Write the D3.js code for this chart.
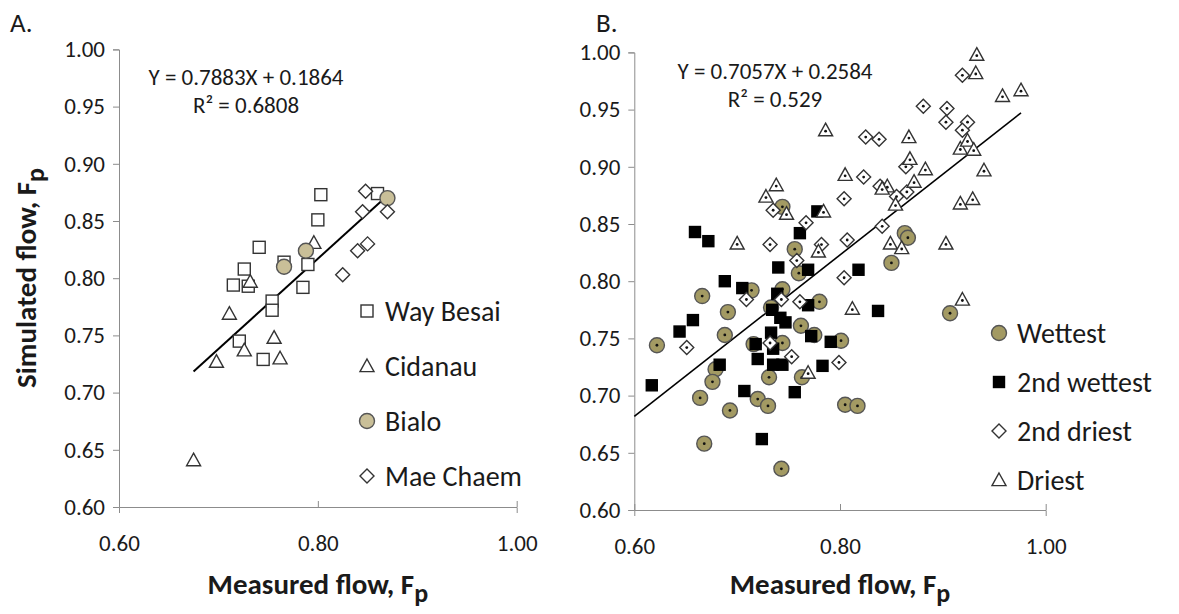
<!DOCTYPE html>
<html>
<head>
<meta charset="utf-8">
<script src="https://cdn.jsdelivr.net/npm/d3@7"></script>
<style>
body { margin: 0; background: #fff; }
text { font-family: Calibri, Carlito, Lato, "Open Sans", sans-serif; fill: #1a1a1a; }
</style>
</head>
<body>
<svg id="chart" width="1179" height="614"></svg>
<script>
// ---- panel A data ----
let wayBesai = [[0.803,0.873],[0.860,0.874],[0.800,0.851],[0.741,0.827],[0.766,0.814],[0.790,0.812],[0.726,0.808],[0.715,0.794],[0.730,0.793],[0.785,0.792],[0.754,0.780],[0.754,0.772],[0.721,0.745],[0.745,0.729]];
let cidanau = [[0.796,0.831],[0.732,0.797],[0.711,0.769],[0.756,0.748],[0.726,0.737],[0.762,0.730],[0.698,0.727],[0.675,0.641]];
let bialo = [[0.870,0.870],[0.788,0.824],[0.766,0.810]];
let maeChaem = [[0.848,0.876],[0.845,0.858],[0.870,0.858],[0.850,0.830],[0.840,0.824],[0.825,0.803]];

// ---- panel B data ----
let wettest = [[0.744,0.865],[0.756,0.828],[0.760,0.807],[0.714,0.792],[0.744,0.793],[0.666,0.787],[0.780,0.782],[0.691,0.773],[0.733,0.777],[0.762,0.761],[0.775,0.753],[0.688,0.753],[0.622,0.744],[0.716,0.745],[0.744,0.746],[0.801,0.748],[0.679,0.723],[0.676,0.712],[0.731,0.716],[0.763,0.716],[0.664,0.698],[0.720,0.697],[0.730,0.691],[0.693,0.687],[0.805,0.692],[0.817,0.691],[0.668,0.658],[0.743,0.636],[0.863,0.842],[0.866,0.838],[0.850,0.816],[0.907,0.772]];
let wettest2 = [[0.659,0.843],[0.672,0.835],[0.778,0.861],[0.761,0.842],[0.740,0.812],[0.688,0.800],[0.705,0.794],[0.739,0.789],[0.734,0.775],[0.742,0.768],[0.747,0.764],[0.769,0.810],[0.769,0.779],[0.657,0.766],[0.644,0.756],[0.733,0.755],[0.772,0.752],[0.791,0.747],[0.718,0.745],[0.735,0.741],[0.720,0.732],[0.683,0.727],[0.735,0.727],[0.744,0.727],[0.783,0.726],[0.617,0.709],[0.707,0.704],[0.756,0.703],[0.724,0.662],[0.818,0.810],[0.837,0.774]];
let driest2 = [[0.919,0.980],[0.881,0.953],[0.904,0.951],[0.903,0.939],[0.924,0.939],[0.919,0.932],[0.825,0.926],[0.838,0.924],[0.864,0.900],[0.823,0.891],[0.839,0.883],[0.865,0.878],[0.804,0.872],[0.855,0.874],[0.735,0.862],[0.767,0.851],[0.732,0.832],[0.782,0.832],[0.807,0.836],[0.841,0.848],[0.758,0.818],[0.804,0.803],[0.709,0.784],[0.761,0.782],[0.651,0.742],[0.753,0.734],[0.799,0.729],[0.743,0.784],[0.732,0.746]];
let driest = [[0.933,0.998],[0.932,0.982],[0.958,0.962],[0.976,0.967],[0.786,0.932],[0.867,0.926],[0.917,0.916],[0.924,0.923],[0.930,0.915],[0.868,0.907],[0.883,0.898],[0.940,0.897],[0.805,0.893],[0.872,0.887],[0.846,0.883],[0.841,0.881],[0.738,0.884],[0.728,0.874],[0.854,0.867],[0.784,0.861],[0.748,0.859],[0.917,0.868],[0.929,0.872],[0.700,0.833],[0.849,0.833],[0.860,0.829],[0.903,0.833],[0.779,0.826],[0.769,0.720],[0.812,0.776],[0.919,0.784]];

let ticksX = [0.6, 0.8, 1.0];
let ticksY = [0.60, 0.65, 0.70, 0.75, 0.80, 0.85, 0.90, 0.95, 1.00];

const svg = d3.select("#chart");
const olive = "#a39a63", tan = "#c9bf98";

function drawPanel(cfg) {
  const x = d3.scaleLinear().domain([0.6, 1.0]).range(cfg.xr);
  const y = d3.scaleLinear().domain([0.6, 1.0]).range(cfg.yr);
  const g = svg.append("g");

  const ax = g.append("g").attr("transform", `translate(0,${cfg.yr[0]})`)
    .call(d3.axisBottom(x).tickValues(ticksX).tickFormat(d3.format(".2f")).tickSizeOuter(0).tickSize(6));
  const ay = g.append("g").attr("transform", `translate(${cfg.xr[0]},0)`)
    .call(d3.axisLeft(y).tickValues(ticksY).tickFormat(d3.format(".2f")).tickSizeOuter(0).tickSize(6));
  [ax, ay].forEach(a => {
    a.attr("font-size", null).attr("font-family", null);
    a.select(".domain").attr("stroke", "#8c8c8c");
    a.selectAll(".tick line").attr("stroke", "#8c8c8c");
    a.selectAll(".tick text").style("font-size", "23px").attr("fill", "#1a1a1a");
  });
  ax.selectAll(".tick line").attr("y2", -6);
  ax.selectAll(".tick text").attr("y", 36).attr("dy", "0.35em");
  ay.selectAll(".tick text").attr("x", -14);

  // regression line
  g.append("line")
    .attr("x1", x(cfg.fit[2])).attr("y1", y(cfg.fit[0] * cfg.fit[2] + cfg.fit[1]))
    .attr("x2", x(cfg.fit[3])).attr("y2", y(cfg.fit[0] * cfg.fit[3] + cfg.fit[1]))
    .attr("stroke", "#000").attr("stroke-width", cfg.lw);

  cfg.series.forEach(s => {
    s.data.forEach(d => {
      drawMarker(g, s, x(d[0]), y(d[1]), cfg.dot);
    });
  });

  // legend
  cfg.series.forEach((s, i) => {
    const ly = cfg.legY + i * cfg.legStep;
    drawMarker(g, s, cfg.legX, ly, false);
    g.append("text").attr("x", cfg.legX + 18).attr("y", ly).attr("dy", "0.35em")
      .style("font-size", "28px").text(s.name);
  });

  g.append("text").attr("x", cfg.eqX).attr("y", cfg.eqY).attr("text-anchor", "middle")
    .style("font-size", "23px").text(cfg.eq);
  g.append("text").attr("x", cfg.eqX).attr("y", cfg.eqY + 28).attr("text-anchor", "middle")
    .style("font-size", "23px").text(cfg.r2);

  const t = g.append("text").attr("x", (cfg.xr[0] + cfg.xr[1]) / 2).attr("y", 594)
    .attr("text-anchor", "middle").style("font-size", "29px").style("font-weight", "bold");
  t.append("tspan").text(cfg.xTitle);
  t.append("tspan").attr("dy", 8).style("font-size", "26px").text("p");

  g.append("text").attr("x", cfg.panelX).attr("y", 32).style("font-size", "27px").text(cfg.panel);
}

function drawMarker(g, s, px, py, dot) {
  const sz = s.size;
  if (s.shape === "circle") {
    g.append("circle").attr("cx", px).attr("cy", py).attr("r", sz / 2)
      .attr("fill", s.fill).attr("stroke", "#555").attr("stroke-width", 1.4);
  } else if (s.shape === "square") {
    g.append("rect").attr("x", px - sz / 2).attr("y", py - sz / 2).attr("width", sz).attr("height", sz)
      .attr("fill", s.fill).attr("stroke", s.fill === "#000" ? "#000" : "#333").attr("stroke-width", 1.4);
  } else if (s.shape === "diamond") {
    const h = sz / 2 + 1;
    g.append("path").attr("d", `M${px},${py - h}L${px + h},${py}L${px},${py + h}L${px - h},${py}Z`)
      .attr("fill", "#fff").attr("stroke", "#333").attr("stroke-width", 1.4);
  } else {
    const h = sz / 2 + 1;
    g.append("path").attr("d", `M${px},${py - h}L${px + h},${py + h * 0.8}L${px - h},${py + h * 0.8}Z`)
      .attr("fill", "#fff").attr("stroke", "#333").attr("stroke-width", 1.4);
  }
  if (dot && s.fill !== "#000") {
    g.append("circle").attr("cx", px).attr("cy", py + (s.shape === "triangle" ? 1 : 0)).attr("r", 1.4).attr("fill", "#111");
  }
}

drawPanel({
  xr: [119, 516.7], yr: [507, 49.4],
  fit: [0.7883, 0.1864, 0.675, 0.872], lw: 2,
  dot: false,
  series: [
    { name: "Way Besai", data: wayBesai, shape: "square", fill: "#fff", size: 12 },
    { name: "Cidanau", data: cidanau, shape: "triangle", fill: "#fff", size: 12 },
    { name: "Bialo", data: bialo, shape: "circle", fill: tan, size: 15 },
    { name: "Mae Chaem", data: maeChaem, shape: "diamond", fill: "#fff", size: 12 }
  ],
  legX: 367, legY: 311, legStep: 55,
  eqX: 246, eqY: 85, eq: "Y = 0.7883X + 0.1864", r2: "R² = 0.6808",
  xTitle: "Measured flow, F", panel: "A.", panelX: 10
});

drawPanel({
  xr: [634.3, 1045.7], yr: [510, 52.4],
  fit: [0.7057, 0.2584, 0.6, 0.976], lw: 1.6,
  dot: true,
  series: [
    { name: "Wettest", data: wettest, shape: "circle", fill: olive, size: 15 },
    { name: "2nd wettest", data: wettest2, shape: "square", fill: "#000", size: 11 },
    { name: "2nd driest", data: driest2, shape: "diamond", fill: "#fff", size: 12 },
    { name: "Driest", data: driest, shape: "triangle", fill: "#fff", size: 12 }
  ],
  legX: 999, legY: 333, legStep: 49,
  eqX: 775, eqY: 79, eq: "Y = 0.7057X + 0.2584", r2: "R² = 0.529",
  xTitle: "Measured flow,  F", panel: "B.", panelX: 596
});

// y axis title (panel A)
const yt = svg.append("text").attr("transform", "translate(36,278) rotate(-90)")
  .attr("text-anchor", "middle").style("font-size", "29px").style("font-weight", "bold");
yt.append("tspan").text("Simulated flow, F");
yt.append("tspan").attr("dy", 8).style("font-size", "26px").text("p");
</script>
</body>
</html>
